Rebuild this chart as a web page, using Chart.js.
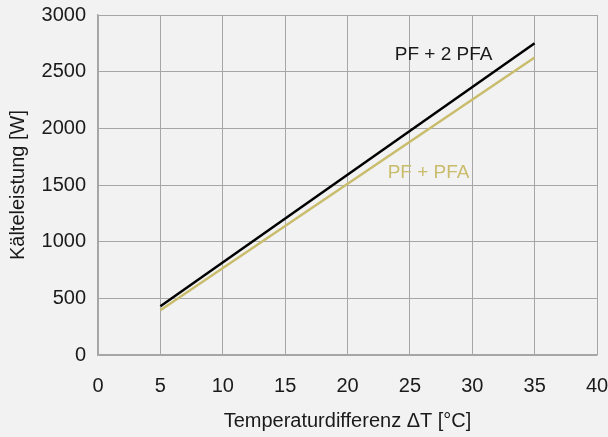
<!DOCTYPE html>
<html>
<head>
<meta charset="utf-8">
<script src="https://cdn.jsdelivr.net/npm/chart.js@4"></script>
<style>
  body { margin: 0; background: #f2f2f2; }
  canvas { display: block; }
</style>
</head>
<body>
<canvas id="chart" width="608" height="437"></canvas>
<script>
const temps = [5, 35];
const pf2pfa = [430, 2750];
const pfpfa = [395, 2625];
const xTicks = [0, 5, 10, 15, 20, 25, 30, 35, 40];
const seriesLabels = ["PF + 2 PFA", "PF + PFA"];
const labelPos = [[27.7, 2650], [26.5, 1610]];

const fontFamily = "'Liberation Sans', Arial, sans-serif";
const textColor = "#1a1a1a";
const gridColor = "#a6a6a6";
const colors = ["#000000", "#c9bc6c"];

// draws the series names next to the lines
const lineLabels = {
  id: "lineLabels",
  afterDatasetsDraw(chart) {
    const ctx = chart.ctx;
    const x = chart.scales.x;
    const y = chart.scales.y;
    ctx.save();
    ctx.font = "19px " + fontFamily;
    ctx.textAlign = "center";
    ctx.textBaseline = "middle";
    seriesLabels.forEach((txt, i) => {
      ctx.fillStyle = i === 0 ? textColor : colors[1];
      ctx.fillText(txt, x.getPixelForValue(labelPos[i][0]), y.getPixelForValue(labelPos[i][1]));
    });
    ctx.restore();
  },
};

new Chart(document.getElementById("chart").getContext("2d"), {
  type: "line",
  data: {
    datasets: [
      {
        label: seriesLabels[0],
        data: temps.map((t, i) => ({ x: t, y: pf2pfa[i] })),
        borderColor: colors[0],
        borderWidth: 2.5,
        pointRadius: 0,
      },
      {
        label: seriesLabels[1],
        data: temps.map((t, i) => ({ x: t, y: pfpfa[i] })),
        borderColor: colors[1],
        borderWidth: 2.5,
        pointRadius: 0,
      },
    ],
  },
  options: {
    responsive: false,
    animation: false,
    layout: { padding: { top: 15, right: 11, left: 0, bottom: 0 } },
    plugins: { legend: { display: false }, tooltip: { enabled: false } },
    scales: {
      x: {
        type: "linear",
        min: 0,
        max: 40,
        afterBuildTicks: (s) => { s.ticks = xTicks.map((v) => ({ value: v })); },
        afterFit: (s) => {
          s.height = 82;
          s.paddingLeft = 0;
          s.paddingRight = 0;
        },
        grid: { color: gridColor, lineWidth: 1, drawTicks: false },
        border: { color: gridColor, width: 1.5 },
        ticks: {
          color: textColor,
          font: { family: fontFamily, size: 20 },
          padding: 19,
          callback: (v) => String(v),
        },
        title: {
          display: true,
          text: "Temperaturdifferenz ΔT [°C]",
          color: textColor,
          font: { family: fontFamily, size: 20 },
          padding: { top: 10 },
        },
      },
      y: {
        min: 0,
        max: 3000,
        afterFit: (s) => {
          s.width = 98;
          s.paddingTop = 0;
          s.paddingBottom = 0;
        },
        grid: { color: gridColor, lineWidth: 1, drawTicks: false },
        border: { color: gridColor, width: 1.5 },
        ticks: {
          stepSize: 500,
          color: textColor,
          font: { family: fontFamily, size: 20 },
          padding: 12,
          callback: (v) => String(v),
        },
        title: {
          display: true,
          text: "Kälteleistung [W]",
          color: textColor,
          font: { family: fontFamily, size: 20 },
          padding: { top: 6, bottom: 0 },
        },
      },
    },
  },
  plugins: [lineLabels],
});
</script>
</body>
</html>
